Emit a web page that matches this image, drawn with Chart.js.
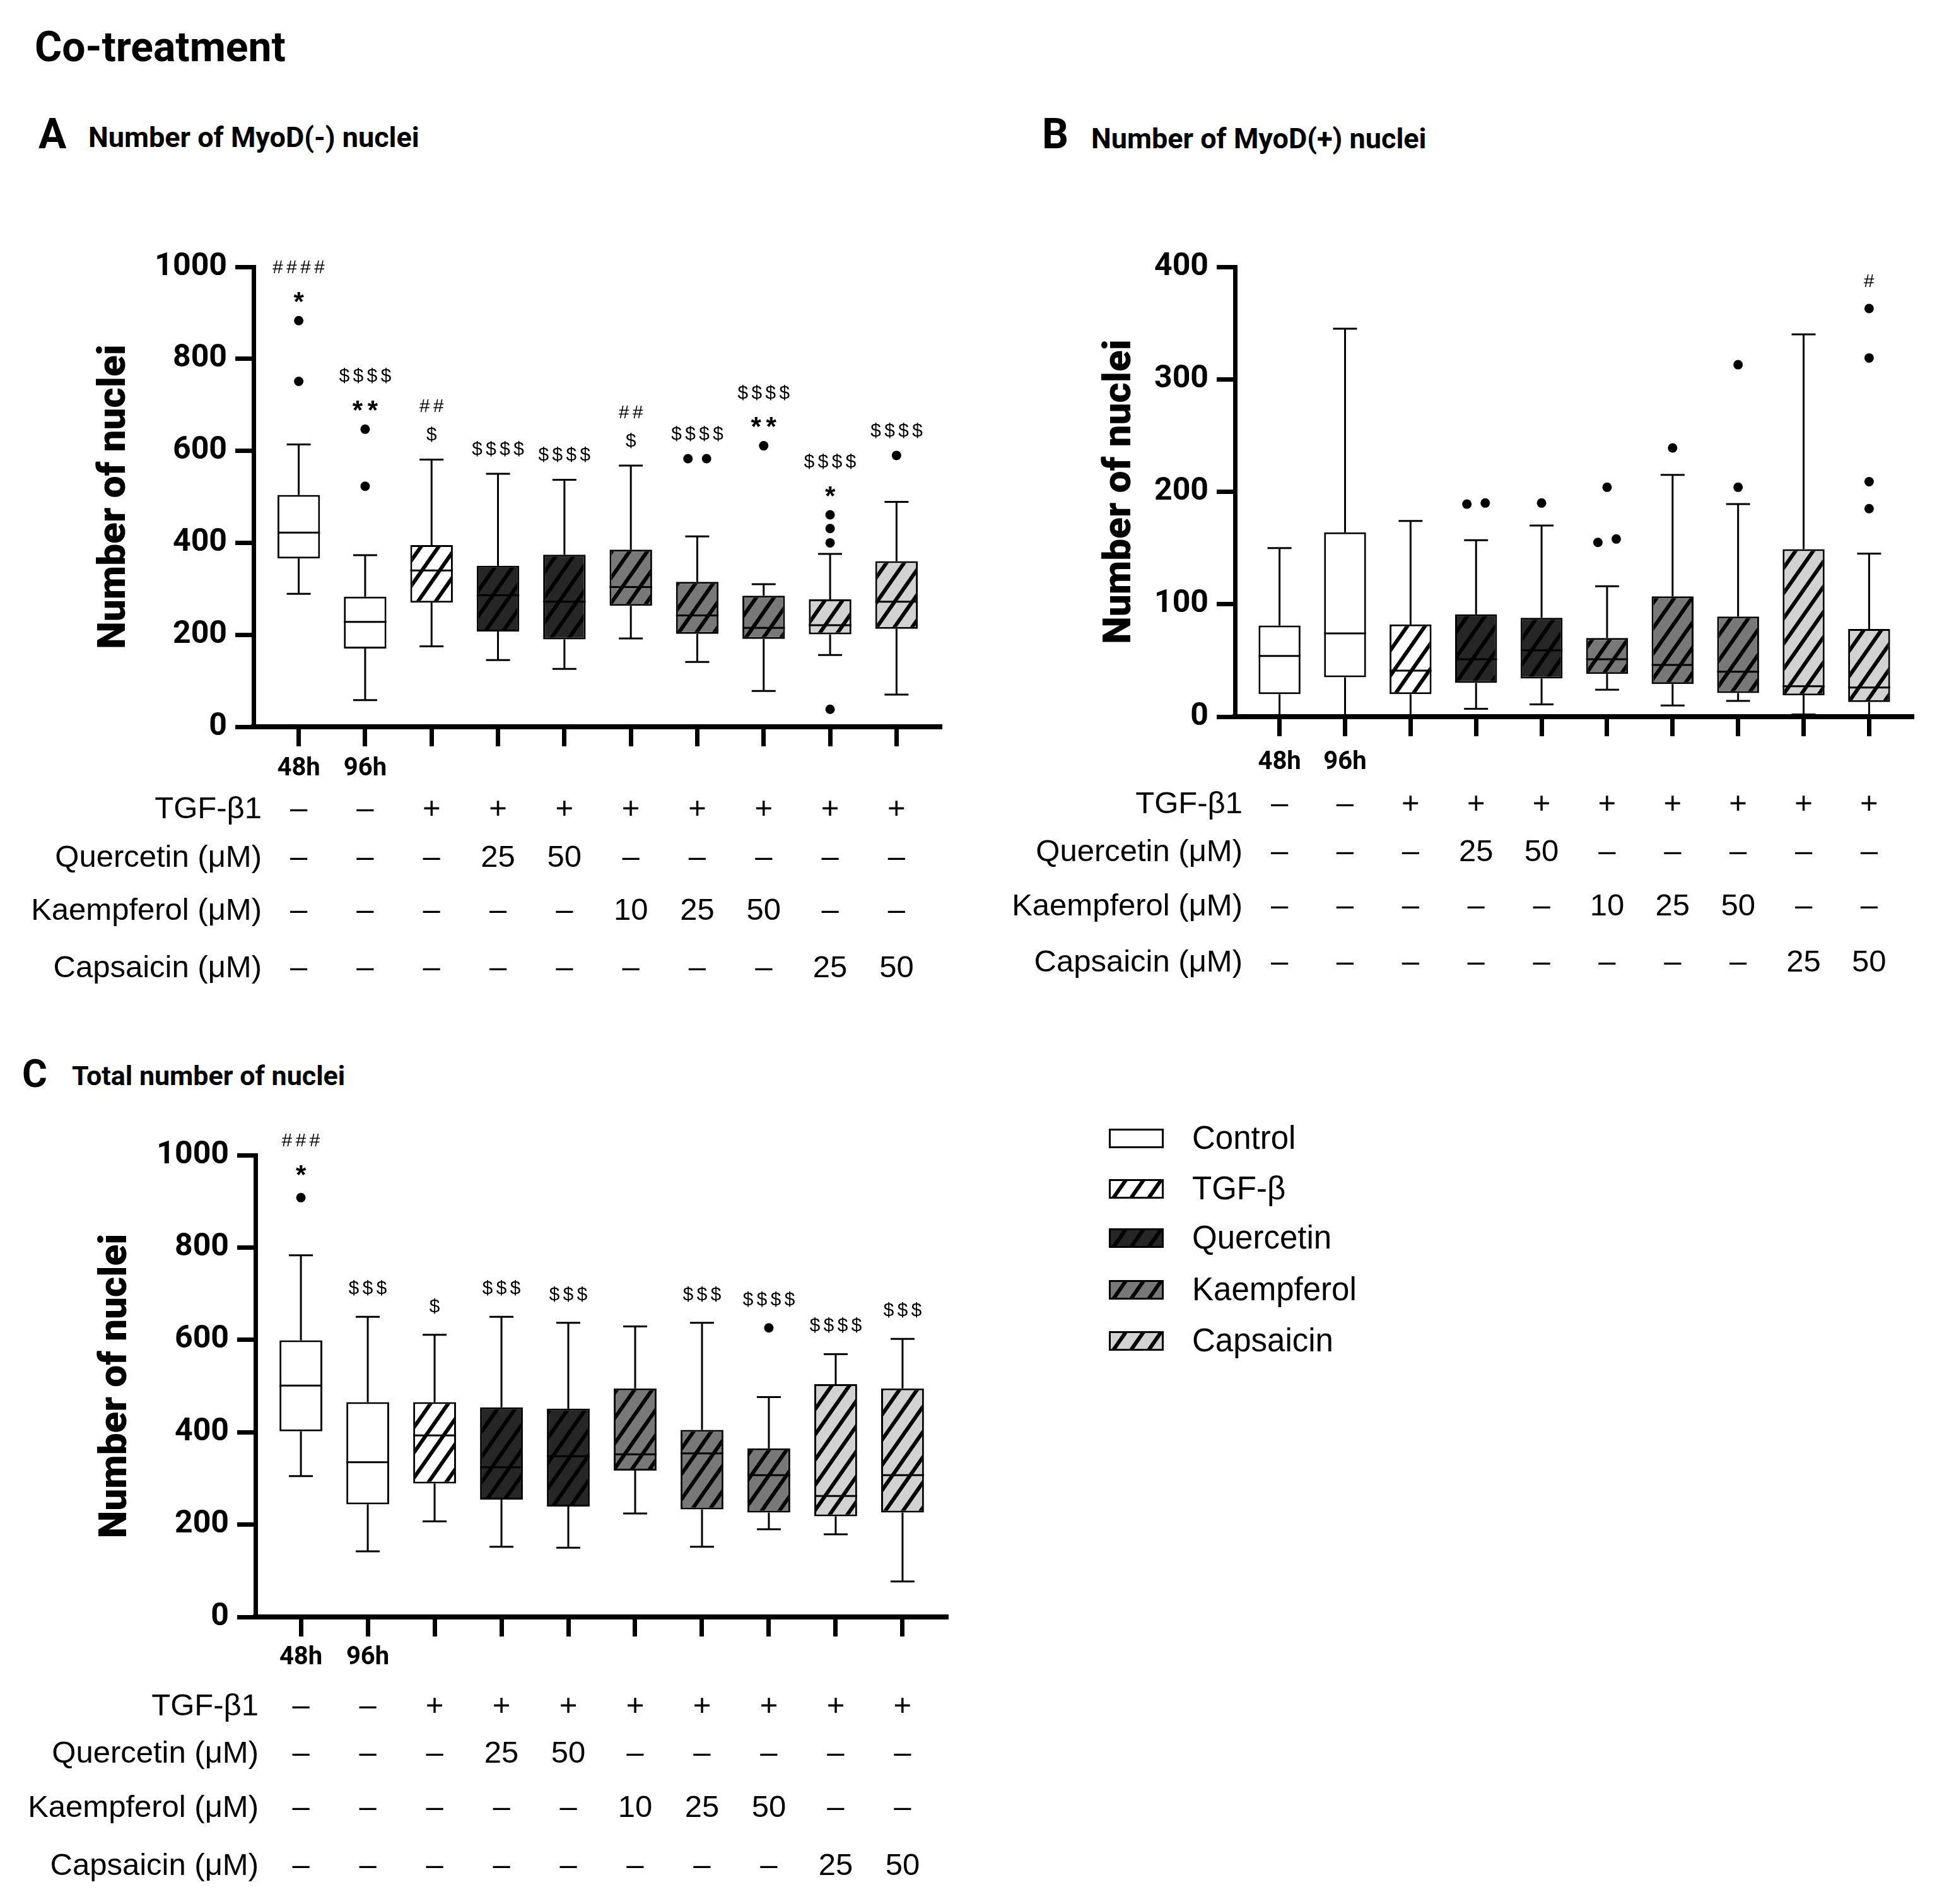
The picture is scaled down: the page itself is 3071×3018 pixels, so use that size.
<!DOCTYPE html>
<html>
<head>
<meta charset="utf-8">
<script src="https://cdn.jsdelivr.net/npm/chart.js@4.4.1/dist/chart.umd.min.js"></script>
<style>
  body { margin: 0; background: #fff; width: 3071px; height: 3018px; position: relative; overflow: hidden; }
  canvas.panel { position: absolute; }
  .t { position: absolute; white-space: nowrap; font-family: Roboto, sans-serif; font-weight: 700; line-height: 1; color: #000; }
  .leg { position: absolute; white-space: nowrap; font-family: "Liberation Sans", Arial, sans-serif; font-size: 51px; line-height: 60px; color: #000; }
  canvas.sw { position: absolute; }
</style>
</head>
<body>
<div class="t" style="left:55px;top:42px;font-size:66px">Co-treatment</div>
<div class="t" style="left:61px;top:180px;font-size:66px">A</div>
<div class="t" style="left:140px;top:195px;font-size:45px">Number of MyoD(-) nuclei</div>
<div class="t" style="left:1652px;top:180px;font-size:66px">B</div>
<div class="t" style="left:1730px;top:197px;font-size:45px">Number of MyoD(+) nuclei</div>
<div class="t" style="left:35px;top:1672px;font-size:61px">C</div>
<div class="t" style="left:114px;top:1684px;font-size:43px">Total number of nuclei</div>

<canvas id="chartA" class="panel" width="1540" height="1250" style="left:0;top:380px"></canvas>
<canvas id="chartB" class="panel" width="1531" height="1250" style="left:1540px;top:380px"></canvas>
<canvas id="chartC" class="panel" width="1540" height="1378" style="left:0;top:1640px"></canvas>
<div id="legend"></div>

<script>
// groups along the x axis
const groups = ['48h', '96h', 'TGF', 'Q25', 'Q50', 'K10', 'K25', 'K50', 'C25', 'C50'];
const hourLabels = ['48h', '96h', '', '', '', '', '', '', '', ''];
const treatment = ['Control', 'Control', 'TGF', 'Quercetin', 'Quercetin', 'Kaempferol', 'Kaempferol', 'Kaempferol', 'Capsaicin', 'Capsaicin'];

// treatment table under each chart
const rowLabels = ['TGF-β1', 'Quercetin (μM)', 'Kaempferol (μM)', 'Capsaicin (μM)'];
const tgfRow = ['–', '–', '+', '+', '+', '+', '+', '+', '+', '+'];
const quercetinRow = ['–', '–', '–', '25', '50', '–', '–', '–', '–', '–'];
const kaempferolRow = ['–', '–', '–', '–', '–', '10', '25', '50', '–', '–'];
const capsaicinRow = ['–', '–', '–', '–', '–', '–', '–', '–', '25', '50'];

// A: MyoD(-) nuclei
const aMin = [289, 58, 175, 145, 126, 192, 141, 78, 156, 70];
const aQ1 = [366, 170, 270, 207, 190, 263, 202, 191, 201, 213];
const aMed = [422, 228, 340, 286, 272, 304, 242, 215, 221, 272];
const aQ3 = [504, 283, 395, 350, 374, 385, 315, 285, 277, 360];
const aMax = [614, 373, 581, 550, 537, 568, 414, 310, 376, 489];
const aOut = [[751, 883], [523, 647], [], [], [], [], [583, 583], [611], [38, 400, 431, 461], [590]];
const aNotes = [['*', '####'], ['**', '$$$$'], ['$', '##'], ['$$$$'], ['$$$$'], ['$', '##'], ['$$$$'], ['**', '$$$$'], ['*', '$$$$'], ['$$$$']];

// B: MyoD(+) nuclei
const bMin = [1, 0, 0, 7, 11, 24, 10, 14, 2, 0];
const bQ1 = [20, 35, 20, 30, 34, 38, 29, 21, 19, 13];
const bMed = [54, 74, 41, 51, 59, 51, 46, 40, 27, 26];
const bQ3 = [81, 164, 82, 91, 88, 70, 107, 89, 149, 78];
const bMax = [150, 345, 174, 157, 170, 116, 215, 189, 340, 145];
const bOut = [[], [], [], [189, 190], [190], [155, 158, 204], [239], [204, 313], [], [185, 209, 319, 363]];
const bNotes = [[], [], [], [], [], [], [], [], [], ['#']];

// C: total nuclei
const cMin = [305, 142, 207, 152, 150, 224, 152, 190, 179, 77];
const cQ1 = [402, 244, 289, 254, 239, 317, 233, 226, 218, 226];
const cMed = [501, 335, 393, 324, 348, 352, 354, 307, 262, 307];
const cQ3 = [599, 465, 465, 454, 451, 495, 405, 365, 504, 495];
const cMax = [783, 650, 611, 650, 637, 629, 637, 476, 569, 602];
const cOut = [[908], [], [], [], [], [], [], [626], [], []];
const cNotes = [['*', '###'], ['$$$'], ['$'], ['$$$'], ['$$$'], [], ['$$$'], ['$$$$'], ['$$$$'], ['$$$']];

const legendNames = ['Control', 'TGF-β', 'Quercetin', 'Kaempferol', 'Capsaicin'];
const legendKeys = ['Control', 'TGF', 'Quercetin', 'Kaempferol', 'Capsaicin'];

const fillColor = { Control: '#ffffff', TGF: '#ffffff', Quercetin: '#262626', Kaempferol: '#787878', Capsaicin: '#d2d2d2' };
const hatched = { Control: false, TGF: true, Quercetin: true, Kaempferol: true, Capsaicin: true };

function hatchPattern(fill) {
    const w = 28, h = 40;
    const c = document.createElement('canvas');
    c.width = w; c.height = h;
    const g = c.getContext('2d');
    g.fillStyle = fill;
    g.fillRect(0, 0, w, h);
    g.strokeStyle = '#000';
    g.lineWidth = 6;
    g.beginPath();
    [-w, 0, w].forEach(dx => {
        g.moveTo(dx - w * 0.5, h * 1.5);
        g.lineTo(dx + w * 1.5, -h * 0.5);
    });
    g.stroke();
    return g.createPattern(c, 'repeat');
}

function boxFill(key) {
    return hatched[key] ? hatchPattern(fillColor[key]) : fillColor[key];
}

// spread outliers that would overlap
function outlierPoints(out, thresh) {
    const pts = [];
    out.forEach((vals, i) => {
        const sorted = [...vals].sort((a, b) => a - b);
        let k = 0;
        while (k < sorted.length) {
            let j = k;
            while (j + 1 < sorted.length && sorted[j + 1] - sorted[k] < thresh) j++;
            const n = j - k + 1;
            for (let m = k; m <= j; m++) {
                pts.push({ x: i + 1 + (m - k - (n - 1) / 2) * 0.28, y: sorted[m] });
            }
            k = j + 1;
        }
    });
    return pts;
}

function drawSymbols(ctx, s, cx, cy) {
    const star = s[0] === '*';
    ctx.font = star ? 'bold 42px "Liberation Sans"' : '30px "Liberation Mono"';
    const adv = star ? 24 : 22;
    for (let j = 0; j < s.length; j++) {
        ctx.fillText(s[j], cx + (j - (s.length - 1) / 2) * adv, cy + (star ? 10 : 0));
    }
}

function extrasPlugin(p) {
    return {
        id: 'extras',
        beforeDatasetsDraw(chart) {
            const { ctx, scales: { x, y } } = chart;
            ctx.save();
            ctx.strokeStyle = '#000';
            ctx.lineWidth = 3;
            p.q1.forEach((q, i) => {
                const cx = x.getPixelForValue(i + 1);
                const line = (x1, y1, x2, y2) => {
                    ctx.beginPath(); ctx.moveTo(x1, y1); ctx.lineTo(x2, y2); ctx.stroke();
                };
                line(cx, y.getPixelForValue(p.lo[i]), cx, y.getPixelForValue(q));
                line(cx, y.getPixelForValue(p.q3[i]), cx, y.getPixelForValue(p.hi[i]));
                [p.lo[i], p.hi[i]].forEach(v => {
                    const py = y.getPixelForValue(v);
                    line(cx - 19, py, cx + 19, py);
                });
            });
            ctx.restore();
        },
        afterDatasetDraw(chart, args) {
            if (args.index !== 0) return;
            const { ctx, scales: { y } } = chart;
            ctx.save();
            ctx.strokeStyle = '#000';
            ctx.lineWidth = 3;
            args.meta.data.forEach((bar, i) => {
                const py = y.getPixelForValue(p.med[i]);
                ctx.beginPath();
                ctx.moveTo(bar.x - bar.width / 2, py);
                ctx.lineTo(bar.x + bar.width / 2, py);
                ctx.stroke();
            });
            ctx.restore();
        },
        afterDraw(chart) {
            const { ctx, scales: { x, y }, chartArea } = chart;
            ctx.save();
            ctx.fillStyle = '#000';
            ctx.textBaseline = 'middle';
            // significance marks
            ctx.textAlign = 'center';
            p.notes.forEach((marks, i) => {
                const cx = x.getPixelForValue(i + 1);
                const top = Math.min(y.getPixelForValue(p.hi[i]), ...p.out[i].map(v => y.getPixelForValue(v)));
                marks.forEach((s, k) => drawSymbols(ctx, s, cx, top - p.gap - 45 * k));
            });
            // treatment table
            const rows = [tgfRow, quercetinRow, kaempferolRow, capsaicinRow];
            ctx.font = '49px "Liberation Sans", Arial, sans-serif';
            rows.forEach((row, r) => {
                const py = chartArea.bottom + p.rowOff[r];
                ctx.textAlign = 'right';
                ctx.fillText(rowLabels[r], p.labelX, py);
                ctx.textAlign = 'center';
                row.forEach((v, i) => ctx.fillText(v, x.getPixelForValue(i + 1), py));
            });
            ctx.restore();
        }
    };
}

function makeChart(id, p) {
    const boxes = p.q1.map((v, i) => ({ x: i + 1, y: [v, p.q3[i]] }));
    return new Chart(document.getElementById(id), {
        type: 'bar',
        data: {
            datasets: [{
                type: 'bar',
                data: boxes,
                backgroundColor: treatment.map(boxFill),
                borderColor: '#000',
                borderWidth: 3,
                borderSkipped: false,
                barPercentage: 0.64,
                categoryPercentage: 1,
                order: 2
            }, {
                type: 'scatter',
                data: outlierPoints(p.out, p.ymax * 0.025),
                backgroundColor: '#000',
                borderWidth: 0,
                pointRadius: 7.5,
                order: 1
            }]
        },
        options: {
            responsive: false,
            animation: false,
            devicePixelRatio: 1,
            layout: { padding: { left: 0, top: p.padTop, right: p.padRight, bottom: 0 } },
            plugins: { legend: { display: false }, tooltip: { enabled: false } },
            scales: {
                x: {
                    type: 'linear',
                    min: 0.32,
                    max: 10.68,
                    offset: false,
                    afterBuildTicks: s => { s.ticks = groups.map((g, i) => ({ value: i + 1 })); },
                    afterFit: s => { s.height = p.xHeight; },
                    ticks: {
                        callback: (v, i) => hourLabels[i],
                        autoSkip: false,
                        maxRotation: 0,
                        padding: p.hourPad,
                        color: '#000',
                        font: { family: 'Roboto', weight: 'bold', size: 40 }
                    },
                    grid: { offset: false, drawOnChartArea: false, tickLength: 31, tickWidth: 7, color: '#000' },
                    border: { width: 8, color: '#000' }
                },
                y: {
                    min: 0,
                    max: p.ymax,
                    afterFit: s => { s.width = p.yWidth; },
                    ticks: {
                        stepSize: p.step,
                        padding: 13,
                        color: '#000',
                        callback: v => String(v),
                        font: { family: 'Roboto', weight: 'bold', size: 50 }
                    },
                    grid: { drawOnChartArea: false, tickLength: 29, tickWidth: 7, color: '#000' },
                    border: { width: 7, color: '#000' },
                    title: {
                        display: true,
                        text: 'Number of nuclei',
                        color: '#000',
                        font: { family: 'Roboto', weight: '900', size: 62 },
                        padding: { top: p.titlePad, bottom: 0 }
                    }
                }
            }
        },
        plugins: [extrasPlugin(p)]
    });
}

makeChart('chartA', {
    lo: aMin, q1: aQ1, med: aMed, q3: aQ3, hi: aMax, out: aOut, notes: aNotes,
    ymax: 1000, step: 200, padTop: 43, padRight: 47, yWidth: 402, xHeight: 478,
    titlePad: 145, hourPad: 12, gap: 38, labelX: 415, rowOff: [131, 208, 292, 383]
});
makeChart('chartB', {
    lo: bMin, q1: bQ1, med: bMed, q3: bQ3, hi: bMax, out: bOut, notes: bNotes,
    ymax: 400, step: 100, padTop: 37, padRight: 37, yWidth: 418, xHeight: 494,
    titlePad: 199, hourPad: 18, gap: 42, labelX: 430, rowOff: [139, 215, 301, 390]
});
makeChart('chartC', {
    lo: cMin, q1: cQ1, med: cMed, q3: cQ3, hi: cMax, out: cOut, notes: cNotes,
    ymax: 1000, step: 200, padTop: 191, padRight: 37, yWidth: 405, xHeight: 455,
    titlePad: 147, hourPad: 10, gap: 44, labelX: 410, rowOff: [142, 217, 303, 395]
});

// legend
const legend = document.getElementById('legend');
const legendY = [1804, 1884, 1962, 2044, 2125];
legendKeys.forEach((key, k) => {
    const sw = document.createElement('canvas');
    sw.className = 'sw';
    sw.width = 87; sw.height = 31;
    sw.style.left = '1758px';
    sw.style.top = (legendY[k] - 15) + 'px';
    const g = sw.getContext('2d');
    g.fillStyle = boxFill(key);
    g.fillRect(0, 0, 87, 31);
    g.strokeStyle = '#000';
    g.lineWidth = 3;
    g.strokeRect(1.5, 1.5, 84, 28);
    legend.appendChild(sw);
    const t = document.createElement('div');
    t.className = 'leg';
    t.style.left = '1890px';
    t.style.top = (legendY[k] - 30) + 'px';
    t.textContent = legendNames[k];
    legend.appendChild(t);
});
</script>
</body>
</html>
